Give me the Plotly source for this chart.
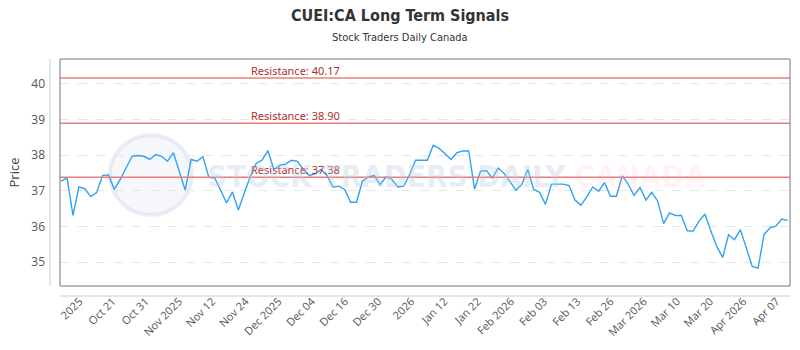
import plotly.graph_objects as go

# ---- data ----
prices = [
    37.27, 37.36, 36.31, 37.11, 37.06, 36.84, 36.95, 37.43, 37.45, 37.04,
    37.32, 37.65, 37.97, 37.99, 37.97, 37.88, 38.02, 37.97, 37.83, 38.07,
    37.54, 37.02, 37.88, 37.83, 37.96, 37.38, 37.36, 37.02, 36.66, 36.97,
    36.46, 36.94, 37.39, 37.77, 37.86, 38.13, 37.60, 37.72, 37.75, 37.86,
    37.83, 37.60, 37.43, 37.48, 37.60, 37.43, 37.11, 37.13, 37.04, 36.68,
    36.68, 37.27, 37.39, 37.43, 37.18, 37.39, 37.32, 37.11, 37.13, 37.46,
    37.86, 37.86, 37.86, 38.28, 38.19, 38.04, 37.88, 38.07, 38.12, 38.12,
    37.05, 37.55, 37.57, 37.36, 37.64, 37.49, 37.27, 37.02, 37.18, 37.60,
    37.04, 36.96, 36.62, 37.19, 37.19, 37.19, 37.15, 36.74, 36.60, 36.83,
    37.11, 36.99, 37.23, 36.85, 36.85, 37.42, 37.19, 36.87, 37.10, 36.74,
    36.96, 36.71, 36.08, 36.38, 36.31, 36.31, 35.88, 35.87, 36.15, 36.35,
    35.87, 35.44, 35.13, 35.77, 35.63, 35.91, 35.40, 34.88, 34.83, 35.77,
    35.96, 36.01, 36.21, 36.17,
]
tick_labels = [
    "2025", "Oct 21", "Oct 31", "Nov 2025", "Nov 12", "Nov 24", "Dec 2025",
    "Dec 04", "Dec 16", "Dec 30", "2026", "Jan 12", "Jan 22", "Feb 2026",
    "Feb 03", "Feb 13", "Feb 26", "Mar 2026", "Mar 10", "Mar 20", "Apr 2026",
    "Apr 07",
]
resistance_levels = [40.17, 38.90, 37.38]

x_idx = list(range(len(prices)))
tick_start, tick_step = 3.1, 5.62
tick_pos = [tick_start + k * tick_step for k in range(len(tick_labels))]

fig = go.Figure()

fig.add_trace(go.Scatter(
    x=x_idx, y=prices, mode="lines",
    line=dict(color="#2ea3f2", width=1.4),
    hoverinfo="y", showlegend=False,
))

shapes = []
annotations = []
for lvl in resistance_levels:
    shapes.append(dict(type="line", xref="paper", x0=0, x1=1, yref="y", y0=lvl, y1=lvl,
                       line=dict(color="#e57f7f", width=1.5), layer="above"))
    annotations.append(dict(xref="paper", x=0.259, yref="y", y=lvl, text=f"Resistance: {lvl:.2f}",
                            showarrow=False, xanchor="left", yanchor="bottom", yshift=-2,
                            font=dict(family="Noto Sans, Open Sans, sans-serif", size=11, color="#b03030")))

# plot border
shapes.append(dict(type="rect", xref="paper", yref="paper", x0=0, x1=1, y0=0, y1=1,
                   line=dict(color="#777777", width=1), layer="above"))
# offset axis lines
shapes.append(dict(type="line", xref="paper", yref="paper", x0=-10/730, x1=-10/730, y0=0, y1=1,
                   line=dict(color="#cccccc", width=1)))
shapes.append(dict(type="line", xref="paper", yref="paper", x0=0, x1=1, y0=-10/227, y1=-10/227,
                   line=dict(color="#cccccc", width=1)))
# watermark logo circle
shapes.append(dict(type="circle", xref="paper", yref="paper",
                   x0=(110-60)/730, x1=(192-60)/730, y0=(286-215)/227, y1=(286-135)/227,
                   line=dict(color="rgba(200,210,225,0.35)", width=4),
                   fillcolor="rgba(215,225,238,0.25)", layer="below"))

annotations.append(dict(xref="paper", yref="paper", x=(205-60)/730, y=(286-176)/227,
                        xanchor="left", yanchor="middle", showarrow=False,
                        text="<b>STOCK TRADERS DAILY</b> <span style='color:rgba(255,160,160,0.4)'><b>CANADA</b></span>",
                        font=dict(family="DejaVu Sans Condensed, Liberation Sans Narrow, sans-serif",
                                  size=31, color="rgba(190,205,225,0.35)")))

annotations.append(dict(xref="paper", yref="paper", x=(400-60)/730, y=1, yshift=13, xanchor="center",
                        yanchor="bottom", showarrow=False, text="Stock Traders Daily Canada",
                        font=dict(family="DejaVu Sans Condensed, Liberation Sans Narrow, sans-serif",
                                  size=11, color="#333333")))

fig.update_layout(
    width=800, height=350,
    margin=dict(l=60, r=10, t=59, b=64),
    paper_bgcolor="white", plot_bgcolor="white",
    title=dict(text="<b>CUEI:CA Long Term Signals</b>", x=0.5, xanchor="center",
               y=0.955, yanchor="middle",
               font=dict(family="DejaVu Sans Condensed, Liberation Sans Narrow, sans-serif",
                         size=16, color="#333333")),
    xaxis=dict(range=[-0.2, 123.4], tickmode="array", tickvals=tick_pos, ticktext=tick_labels,
               tickangle=-45, showgrid=False, zeroline=False, showline=False, ticks="",
               ticklabelstandoff=6,
               tickfont=dict(family="Open Sans, sans-serif", size=11, color="#555555")),
    yaxis=dict(range=[34.33, 40.70], tickvals=[35, 36, 37, 38, 39, 40], showgrid=True,
               gridcolor="#e6e6e6", griddash="dash", zeroline=False, showline=False, ticks="",
               ticklabelstandoff=14,
               title=dict(text="Price", standoff=8,
                          font=dict(family="Open Sans, sans-serif", size=13, color="#444444")),
               tickfont=dict(family="Open Sans, sans-serif", size=12, color="#555555")),
    shapes=shapes, annotations=annotations,
)

fig.write_html("out.html")
